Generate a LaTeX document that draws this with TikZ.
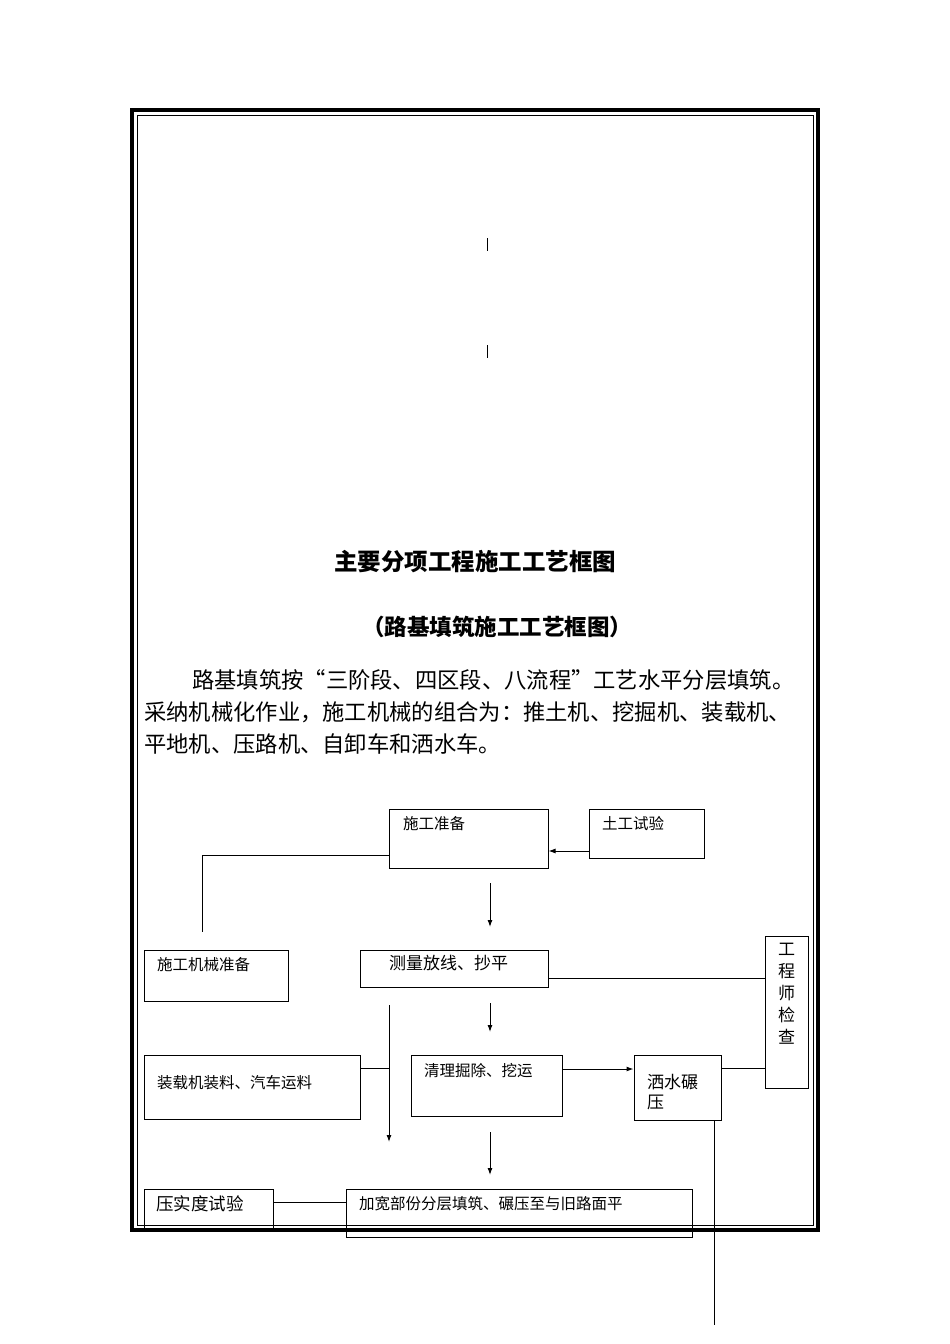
\documentclass[tikz,border=0pt]{standalone}
\usepackage{fontspec}
\setmainfont{Noto Sans CJK SC}
\usetikzlibrary{arrows.meta}
\begin{document}
\begin{tikzpicture}[x=1pt,y=-1pt,
 bx/.style={draw,line width=1pt,inner sep=0pt},
 lb/.style={anchor=north west,inner sep=0pt,font=\fontsize{15.5}{17}\selectfont},
 pg/.style={anchor=west,inner sep=0pt,font=\fontsize{22.3}{24}\selectfont},
 ln/.style={line width=1pt},
 ar/.style={line width=1pt,-{Latex[length=7pt,width=5pt]}}]
\useasboundingbox (0,0) rectangle (950,1344);
\fill[white] (0,0) rectangle (950,1344);
% frame
\draw[line width=4pt] (132,110) rectangle (818,1230);
\draw[line width=1pt] (137,115) rectangle (813,1225);
\draw[line width=0.8pt] (487,238) -- (487,251);
\draw[line width=0.8pt] (487,345) -- (487,358);
% titles
\node[font=\bfseries\fontsize{23.5}{26}\selectfont] (t1) at (475,562) {主要分项工程施工工艺框图};
\node[font=\bfseries\fontsize{22.5}{24}\selectfont] (t2) at (497,627) {（路基填筑施工工艺框图）};
\node[pg] (p1) at (192,680) {路基填筑按“三阶段、四区段、八流程”工艺水平分层填筑。};
\node[pg] (p2) at (144,712) {采纳机械化作业，施工机械的组合为：推土机、挖掘机、装载机、};
\node[pg] (p3) at (144,744) {平地机、压路机、自卸车和洒水车。};
% boxes
\node[bx,minimum width=159pt,minimum height=59pt] (a) at (468.5,838.5) {};
\node[lb] at (403,816) {施工准备};
\node[bx,minimum width=115pt,minimum height=49pt] (b) at (646.5,833.5) {};
\node[lb] at (602,816) {土工试验};
\node[bx,minimum width=144pt,minimum height=51pt] (c) at (216,975.5) {};
\node[lb] at (157,957) {施工机械准备};
\node[bx,minimum width=188pt,minimum height=37pt] (d) at (454,968.5) {};
\node[lb,font=\fontsize{17}{18}\selectfont] at (389,955) {测量放线、抄平};
\node[bx,minimum width=43pt,minimum height=152pt] (e) at (786.5,1012) {};
\node[anchor=north,inner sep=0pt,align=center,font=\fontsize{17}{22}\selectfont] at (786.5,943) {工\\程\\师\\检\\查};
\node[bx,minimum width=216pt,minimum height=64pt] (f) at (252,1087) {};
\node[lb] at (157,1075) {装载机装料、汽车运料};
\node[bx,minimum width=151pt,minimum height=61pt] (g) at (486.5,1085.5) {};
\node[lb] at (424,1063) {清理掘除、挖运};
\node[bx,minimum width=87pt,minimum height=65pt] (h) at (677.5,1087.5) {};
\node[lb,align=left,font=\fontsize{17}{20}\selectfont] at (647,1074) {洒水碾\\压};
\node[bx,minimum width=129pt,minimum height=39pt] (i) at (208.5,1208.5) {};
\node[lb,font=\fontsize{17.5}{18}\selectfont] at (156,1195) {压实度试验};
\node[bx,minimum width=346pt,minimum height=48pt] (j) at (519,1213) {};
\node[lb] at (359,1196) {加宽部份分层填筑、碾压至与旧路面平};
% coordinates
\coordinate (c1) at (202,855);
\coordinate (c2) at (202,932);
\coordinate (a1) at (490,883); \coordinate (a2) at (490,927);
\coordinate (a3) at (490,1003); \coordinate (a4) at (490,1032);
\coordinate (a5) at (490,1132); \coordinate (a6) at (490,1175);
\coordinate (v1) at (389,1005); \coordinate (v2) at (389,1142);
\coordinate (w1) at (714,1120); \coordinate (w2) at (714,1325);
% connectors
\draw[ar] (b.west |- 0,851) -- (a.east |- 0,851);
\draw[ln] (a.west |- c1) -- (c1) -- (c2);
\draw[ar] (a1) -- (a2);
\draw[ln] (d.east |- 0,978) -- (e.west |- 0,978);
\draw[ar] (a3) -- (a4);
\draw[ar] (v1) -- (v2);
\draw[ln] (f.east |- 0,1068) -- (389,1068);
\draw[ar] (g.east |- 0,1069) -- (h.west |- 0,1069);
\draw[ln] (h.east |- 0,1068) -- (e.west |- 0,1068);
\draw[ar] (a5) -- (a6);
\draw[ln] (i.east |- 0,1202) -- (j.west |- 0,1202);
\draw[ln] (w1) -- (w2);
\end{tikzpicture}
\end{document}
